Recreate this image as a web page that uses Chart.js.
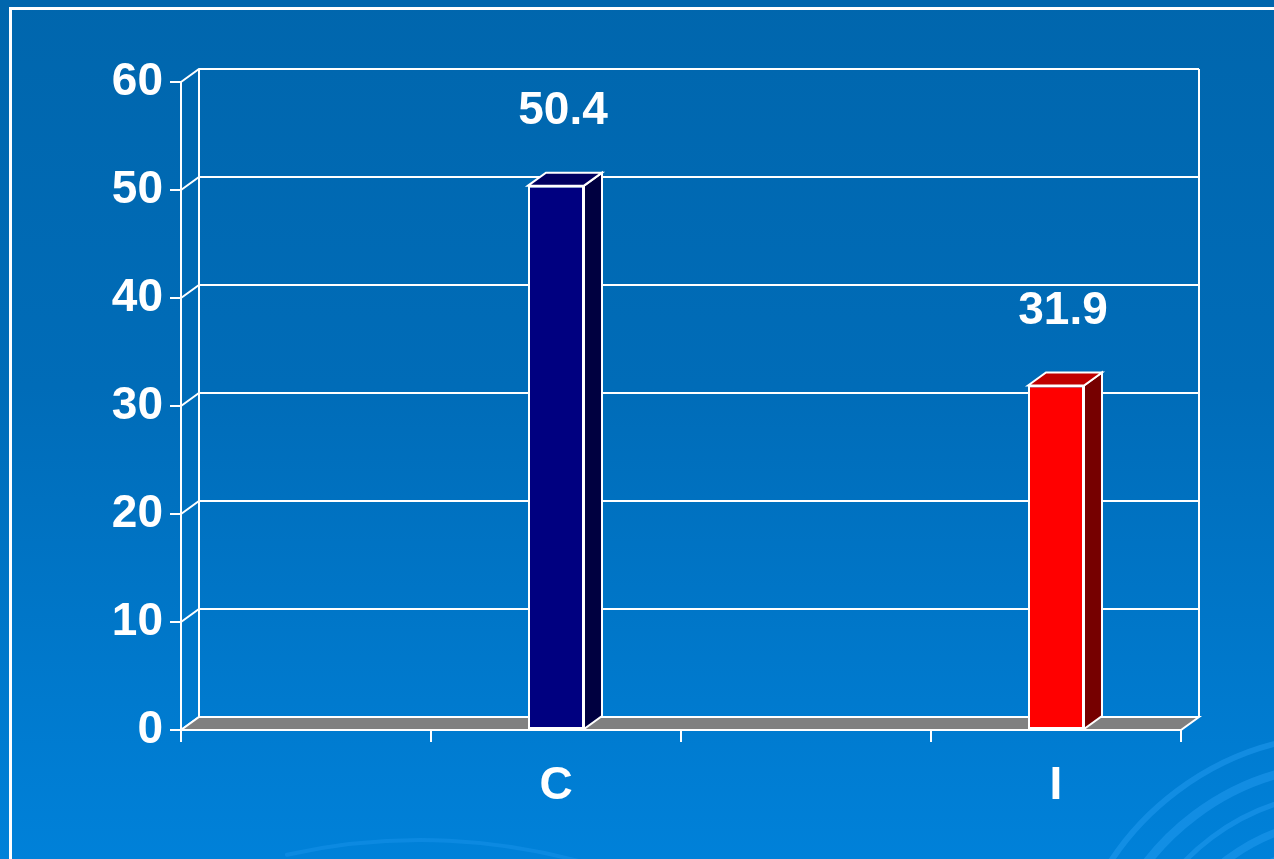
<!DOCTYPE html>
<html>
<head>
<meta charset="utf-8">
<title>C / I</title>
<script src="https://cdn.jsdelivr.net/npm/chart.js@4.4.1/dist/chart.umd.min.js"></script>
<style>
  html, body { margin: 0; padding: 0; }
  body {
    width: 1274px; height: 859px; overflow: hidden;
    background: linear-gradient(to bottom, #0066ad 0%, #006cb8 45%, #0081d9 100%);
    font-family: "Liberation Sans", Arial, sans-serif;
  }
  #wrap { position: absolute; left: 0; top: 0; width: 1274px; height: 859px; }
</style>
</head>
<body>
<div id="wrap"><canvas id="barChart"></canvas></div>
<script>
// categories (the blank ones keep the empty slots between the two bars)
const categories = ['', 'C', '', 'I'];
const values = [null, 50.4, null, 31.9];
const yTickValues = [0, 10, 20, 30, 40, 50, 60];

// face colours per slot: front / side / top
const FRONT = ['#000080', '#000080', '#ff0000', '#ff0000'];
const SIDE  = ['#000040', '#000040', '#760000', '#760000'];
const TOP   = ['#000060', '#000060', '#c00000', '#c00000'];

const DX = 18, DY = -13;      // depth offset of the fake 3d look
const WHITE = '#ffffff';
const FONT = { family: '"Liberation Sans", Arial, sans-serif', size: 46, weight: 'bold' };

// frame + soft swirls in the background
const backdrop = {
  id: 'backdrop',
  beforeDraw(chart) {
    const ctx = chart.ctx;
    ctx.save();
    ctx.strokeStyle = 'rgba(40,160,245,0.45)';
    ctx.lineCap = 'round';
    [[170, 6], [195, 8], [222, 5], [250, 9], [280, 6]].forEach(([r, w]) => {
      ctx.lineWidth = w;
      ctx.beginPath();
      ctx.arc(1345, 1015, r, Math.PI * 1.12, Math.PI * 1.47);
      ctx.stroke();
    });
    ctx.strokeStyle = 'rgba(40,160,245,0.3)';
    ctx.lineWidth = 4;
    ctx.beginPath();
    ctx.arc(420, 1450, 610, Math.PI * 1.43, Math.PI * 1.6);
    ctx.stroke();
    ctx.strokeStyle = WHITE;
    ctx.lineWidth = 3;
    ctx.strokeRect(10.5, 8.5, 1400, 1000);
    ctx.restore();
  }
};

// back wall, side wall, floor and the side/top faces of each bar
const box3d = {
  id: 'box3d',
  beforeDatasetsDraw(chart) {
    const ctx = chart.ctx;
    const { left, right, top, bottom } = chart.chartArea;
    const y = chart.scales.y;
    ctx.save();
    ctx.strokeStyle = WHITE;
    ctx.lineWidth = 2;
    ctx.lineJoin = 'miter';

    // gridlines: diagonal on the side wall, then across the back wall
    yTickValues.forEach(v => {
      const py = y.getPixelForValue(v);
      ctx.beginPath();
      ctx.moveTo(left, py);
      ctx.lineTo(left + DX, py + DY);
      ctx.lineTo(right + DX, py + DY);
      ctx.stroke();
    });
    ctx.beginPath();
    ctx.moveTo(left + DX, top + DY);
    ctx.lineTo(left + DX, bottom + DY);
    ctx.moveTo(right + DX, top + DY);
    ctx.lineTo(right + DX, bottom + DY);
    ctx.stroke();

    // floor
    ctx.beginPath();
    ctx.moveTo(left, bottom);
    ctx.lineTo(right, bottom);
    ctx.lineTo(right + DX, bottom + DY);
    ctx.lineTo(left + DX, bottom + DY);
    ctx.closePath();
    ctx.fillStyle = '#808080';
    ctx.fill();
    ctx.stroke();

    // side + top faces, front face is drawn by chart.js itself
    chart.getDatasetMeta(0).data.forEach((bar, i) => {
      if (values[i] == null) return;
      const { x, y: by, base, width } = bar.getProps(['x', 'y', 'base', 'width'], true);
      const l = x - width / 2, r = x + width / 2;
      ctx.beginPath();
      ctx.moveTo(r, by);
      ctx.lineTo(r + DX, by + DY);
      ctx.lineTo(r + DX, base + DY);
      ctx.lineTo(r, base);
      ctx.closePath();
      ctx.fillStyle = SIDE[i];
      ctx.fill();
      ctx.stroke();
      ctx.beginPath();
      ctx.moveTo(l, by);
      ctx.lineTo(l + DX, by + DY);
      ctx.lineTo(r + DX, by + DY);
      ctx.lineTo(r, by);
      ctx.closePath();
      ctx.fillStyle = TOP[i];
      ctx.fill();
      ctx.stroke();
    });
    ctx.restore();
  },
  afterDatasetsDraw(chart) {
    const ctx = chart.ctx;
    ctx.save();
    ctx.fillStyle = WHITE;
    ctx.font = `bold ${FONT.size}px ${FONT.family}`;
    ctx.textAlign = 'center';
    ctx.textBaseline = 'middle';
    chart.getDatasetMeta(0).data.forEach((bar, i) => {
      if (values[i] == null) return;
      ctx.fillText(values[i].toFixed(1), bar.x + 7, bar.y - 74);
    });
    ctx.restore();
  }
};

new Chart(document.getElementById('barChart'), {
  type: 'bar',
  data: {
    labels: categories,
    datasets: [{
      data: values,
      backgroundColor: FRONT,
      borderColor: WHITE,
      borderWidth: 2,
      borderSkipped: false,
      categoryPercentage: 1,
      barPercentage: 0.224
    }]
  },
  options: {
    responsive: true,
    maintainAspectRatio: false,
    animation: false,
    layout: { padding: { top: 82, right: 93, left: 0, bottom: 0 } },
    plugins: { legend: { display: false }, tooltip: { enabled: false } },
    scales: {
      x: {
        offset: true,
        grid: { offset: true, drawOnChartArea: false, color: WHITE, lineWidth: 2, tickLength: 12 },
        border: { display: true, color: WHITE, width: 2 },
        ticks: { color: WHITE, font: FONT, padding: 17, maxRotation: 0 },
        afterFit(s) { s.height = 129; s.paddingLeft = 0; s.paddingRight = 0; }
      },
      y: {
        min: 0,
        max: 60,
        afterBuildTicks(s) { s.ticks = yTickValues.map(v => ({ value: v })); },
        grid: { drawOnChartArea: false, color: WHITE, lineWidth: 2, tickLength: 11 },
        border: { display: true, color: WHITE, width: 2 },
        ticks: { color: WHITE, font: FONT, padding: 7 },
        afterFit(s) { s.width = 181; s.paddingTop = 0; s.paddingBottom = 0; }
      }
    }
  },
  plugins: [backdrop, box3d]
});
</script>
</body>
</html>
